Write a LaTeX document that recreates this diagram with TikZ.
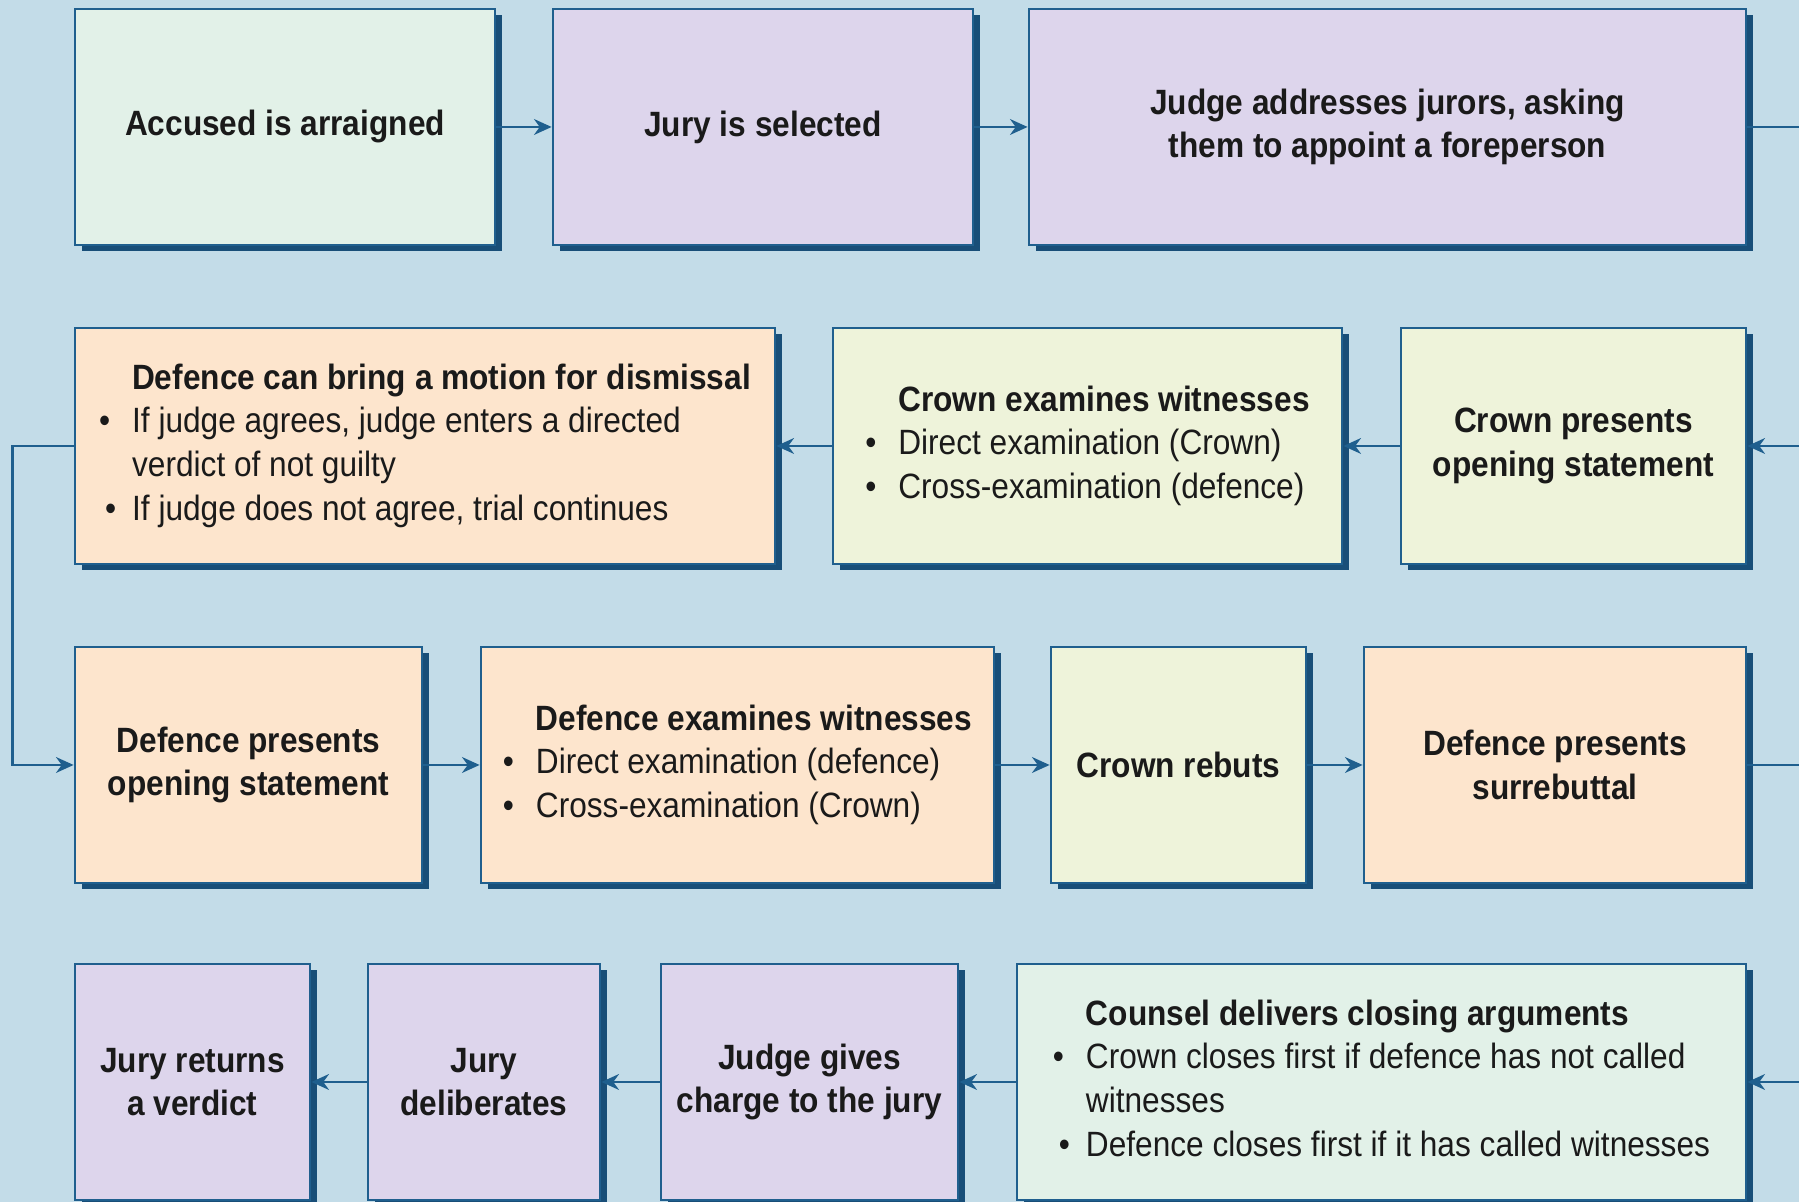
\documentclass[tikz,border=0pt]{standalone}
\usepackage{fontspec}
\setmainfont[FakeStretch=0.9]{Liberation Sans}
\usetikzlibrary{arrows.meta,shadows}
\definecolor{bgblue}{HTML}{C3DCE8}
\definecolor{linkblue}{HTML}{1F5F8E}
\definecolor{shadeblue}{HTML}{184E78}
\definecolor{mint}{HTML}{E2F1E8}
\definecolor{lilac}{HTML}{DDD5EC}
\definecolor{peach}{HTML}{FDE5CD}
\definecolor{lime}{HTML}{EEF3DA}
\definecolor{inkblack}{HTML}{1A1A1A}

\begin{document}
\begin{tikzpicture}[
    box/.style={rectangle, draw=linkblue, line width=0.8pt, inner sep=0pt,
        minimum height=2.36cm, align=center, text=inkblack,
        font=\fontsize{10pt}{12.4pt}\selectfont,
        drop shadow={shadow xshift=0.065cm, shadow yshift=-0.065cm,
            fill=shadeblue, opacity=1}},
    flow/.style={draw=linkblue, line width=0.7pt,
        -{Stealth[length=5pt, width=4.5pt]}}
]
    \fill[bgblue] (0,0) rectangle (17.99,12.02);
    \useasboundingbox (0,0) rectangle (17.99,12.02);

    \node[box, fill=mint, minimum width=4.20cm] (accused) at (2.85,10.75)
        {\textbf{Accused is arraigned}};
    \node[box, fill=lilac, minimum width=4.20cm] (selected) at (7.63,10.75)
        {\textbf{Jury is selected}};
    \node[box, fill=lilac, minimum width=7.17cm] (addresses) at (13.875,10.75)
        {\textbf{Judge addresses jurors, asking}\\\textbf{them to appoint a foreperson}};

    \node[box, fill=peach, minimum width=7.00cm] (motion) at (4.25,7.56)
        {\begin{tabular}{@{}p{0.33cm}@{}l@{}}
            & \textbf{Defence can bring a motion for dismissal}\\
            \textbullet & If judge agrees, judge enters a directed\\
            & verdict of not guilty\\
            \hspace{0.06cm}\textbullet & If judge does not agree, trial continues
        \end{tabular}};
    \node[box, fill=lime, minimum width=5.09cm] (crownexam) at (10.875,7.56)
        {\begin{tabular}{@{}p{0.33cm}@{}l@{}}
            & \textbf{Crown examines witnesses}\\
            \textbullet & Direct examination (Crown)\\
            \textbullet & Cross-examination (defence)
        \end{tabular}};
    \node[box, fill=lime, minimum width=3.45cm] (crownopen) at (15.735,7.56)
        {\textbf{Crown presents}\\\textbf{opening statement}};

    \node[box, fill=peach, minimum width=3.47cm] (defopen) at (2.485,4.37)
        {\textbf{Defence presents}\\\textbf{opening statement}};
    \node[box, fill=peach, minimum width=5.13cm] (defexam) at (7.375,4.37)
        {\begin{tabular}{@{}p{0.33cm}@{}l@{}}
            & \textbf{Defence examines witnesses}\\
            \textbullet & Direct examination (defence)\\
            \textbullet & Cross-examination (Crown)
        \end{tabular}};
    \node[box, fill=lime, minimum width=2.55cm] (rebut) at (11.785,4.37)
        {\textbf{Crown rebuts}};
    \node[box, fill=peach, minimum width=3.82cm] (surreb) at (15.55,4.37)
        {\textbf{Defence presents}\\\textbf{surrebuttal}};

    \node[box, fill=lilac, minimum width=2.35cm] (verdict) at (1.925,1.20)
        {\textbf{Jury returns}\\\textbf{a verdict}};
    \node[box, fill=lilac, minimum width=2.32cm] (deliberate) at (4.84,1.20)
        {\textbf{Jury}\\\textbf{deliberates}};
    \node[box, fill=lilac, minimum width=2.97cm] (charge) at (8.095,1.20)
        {\textbf{Judge gives}\\\textbf{charge to the jury}};
    \node[box, fill=mint, minimum width=7.29cm] (closing) at (13.815,1.20)
        {\begin{tabular}{@{}p{0.33cm}@{}l@{}}
            & \textbf{Counsel delivers closing arguments}\\
            \textbullet & Crown closes first if defence has not called\\
            & witnesses\\
            \hspace{0.06cm}\textbullet & Defence closes first if it has called witnesses
        \end{tabular}};

    \draw[flow] (accused) -- (selected);
    \draw[flow] (selected) -- (addresses);
    \draw[flow] (addresses.east) -- ++(0.6,0) |- (crownopen.east);
    \draw[flow] (crownopen) -- (crownexam);
    \draw[flow] (crownexam) -- (motion);
    \draw[flow] (motion.west) -- ++(-0.61,0) |- (defopen.west);
    \draw[flow] (defopen) -- (defexam);
    \draw[flow] (defexam) -- (rebut);
    \draw[flow] (rebut) -- (surreb);
    \draw[flow] (surreb.east) -- ++(0.6,0) |- (closing.east);
    \draw[flow] (closing) -- (charge);
    \draw[flow] (charge) -- (deliberate);
    \draw[flow] (deliberate) -- (verdict);
\end{tikzpicture}
\end{document}
